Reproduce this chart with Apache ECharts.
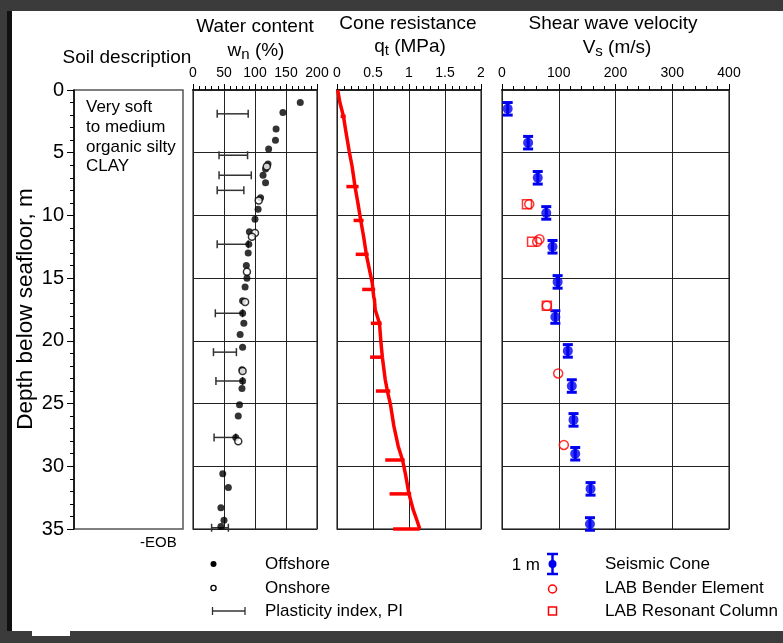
<!DOCTYPE html>
<html>
<head>
<meta charset="utf-8">
<script src="https://cdn.jsdelivr.net/npm/echarts@6/dist/echarts.min.js"></script>
<style>
body{margin:0;background:#3b3b3b;}
#paper{position:absolute;left:7px;top:11px;width:776px;height:620px;background:#fff;border-left:5px solid #111;box-sizing:border-box;}
#notch{position:absolute;left:32px;top:631px;width:38px;height:5px;background:#fff;}
#chart{position:absolute;left:0;top:0;width:783px;height:643px;}
</style>
</head>
<body>
<div id="paper"></div>
<div id="notch"></div>
<div id="chart"></div>
<script>
var F = '"Liberation Sans", Arial, Helvetica, sans-serif';

// water content (depth m, wn %)
var wnOffDepth = [1.0, 1.8, 3.1, 4.0, 4.7, 5.9, 6.3, 6.8, 7.4, 8.6, 9.5, 10.3, 11.3, 12.3, 13.0, 14.0, 15.0, 15.7, 16.8, 17.8, 18.6, 19.5, 20.5, 22.3, 23.2, 23.8, 25.1, 26.0, 27.7, 30.6, 31.7, 33.3, 34.3, 34.8];
var wnOffValue = [173, 145, 134, 133, 122, 121, 117, 113, 117, 109, 105, 100, 91, 90, 89, 86, 87, 84, 80, 80, 82, 76, 80, 79, 80, 79, 75, 73, 69, 48, 57, 45, 50, 45];
var wnOnDepth = [6.1, 8.8, 11.4, 11.7, 14.5, 16.9, 22.4, 28.0];
var wnOnValue = [119, 106, 100, 95, 87, 84, 80, 73];
// plasticity index bars
var piDepth = [1.9, 5.2, 6.8, 8.0, 12.3, 17.8, 20.9, 23.2, 27.7, 34.9];
var piLow = [39, 42, 42, 39, 39, 36, 33, 37, 34, 30];
var piHigh = [89, 88, 94, 82, 89, 80, 70, 80, 69, 57];

// cone resistance qt (MPa)
var qtDepth = [0, 1.0, 2.1, 3.2, 4.9, 6.1, 7.7, 9.0, 10.4, 11.7, 13.2, 14.3, 15.4, 16.5, 16.7, 17.5, 18.6, 20.1, 21.3, 23.1, 24.0, 25.0, 26.8, 28.4, 29.5, 30.6, 32.2, 33.5, 34.3, 35.0];
var qtValue = [0.01, 0.04, 0.09, 0.12, 0.17, 0.21, 0.25, 0.29, 0.33, 0.37, 0.41, 0.45, 0.49, 0.51, 0.52, 0.53, 0.59, 0.61, 0.63, 0.67, 0.70, 0.74, 0.79, 0.85, 0.91, 0.95, 1.00, 1.06, 1.11, 1.15];
var qtMarkDepth = [2.1, 7.7, 10.4, 13.1, 15.9, 18.6, 21.3, 24.0, 29.5, 32.2, 35.0];
var qtMarkLow = [0.05, 0.13, 0.23, 0.26, 0.35, 0.47, 0.46, 0.54, 0.67, 0.73, 0.78];
var qtMarkHigh = [0.12, 0.30, 0.37, 0.44, 0.53, 0.62, 0.64, 0.74, 0.94, 1.03, 1.15];

// shear wave velocity (m/s)
var vsDepth = [1.5, 4.2, 7.0, 9.8, 12.5, 15.3, 18.1, 20.8, 23.6, 26.3, 29.0, 31.8, 34.6];
var vsValue = [10, 46, 63, 78, 89, 98, 94, 116, 123, 126, 129, 156, 155];
var vsHalfBar = 0.5; // bar = 1 m
var benderDepth = [9.1, 11.9, 12.1, 17.2, 22.6, 28.3];
var benderValue = [48, 66, 62, 79, 99, 109];
var resonantDepth = [9.1, 12.1, 17.2];
var resonantValue = [44, 53, 79];

var soilText = ['Very soft', 'to medium', 'organic silty', 'CLAY'];

function zip(xs, ys) {
  return xs.map(function (x, i) { return [x, ys[i]]; });
}

var chart = echarts.init(document.getElementById('chart'));

var grids = [
  { left: 74, top: 90, width: 109, height: 439 },
  { left: 193, top: 90, width: 124, height: 439 },
  { left: 337, top: 90, width: 144, height: 439 },
  { left: 502, top: 90, width: 227, height: 439 }
].map(function (g) {
  g.show = true; g.borderColor = '#555'; g.borderWidth = 1.5; g.backgroundColor = 'transparent';
  return g;
});

function topAxis(idx, max, interval) {
  return {
    gridIndex: idx, type: 'value', position: 'top', min: 0, max: max, interval: interval,
    axisLine: { show: true, lineStyle: { color: '#222', width: 2 } },
    axisTick: { show: true, length: 6, lineStyle: { color: '#000' } },
    minorTick: { show: true, splitNumber: 5, length: 4, lineStyle: { color: '#000' } },
    axisLabel: { fontSize: 14, margin: 10, color: '#000', fontFamily: F },
    splitLine: { show: true, lineStyle: { color: '#222', width: 1 } }
  };
}

function depthAxis(idx) {
  return {
    gridIndex: idx, type: 'value', min: 0, max: 35, interval: 5, inverse: true,
    axisLine: { show: false }, axisTick: { show: false }, axisLabel: { show: false },
    splitLine: { show: true, lineStyle: { color: '#222', width: 1 } }
  };
}

var yAxes = [{
  gridIndex: 0, type: 'value', min: 0, max: 35, interval: 5, inverse: true,
  axisLine: { show: true, lineStyle: { color: '#000', width: 1.5 } },
  axisTick: { show: true, length: 7, lineStyle: { color: '#000' } },
  minorTick: { show: true, splitNumber: 5, length: 4, lineStyle: { color: '#000' } },
  axisLabel: { fontSize: 20, margin: 10, color: '#000', fontFamily: F },
  splitLine: { show: false }
}, depthAxis(1), depthAxis(2), depthAxis(3)];

var xAxes = [
  { gridIndex: 0, type: 'value', min: 0, max: 1, show: false },
  topAxis(1, 200, 50),
  topAxis(2, 2, 0.5),
  topAxis(3, 400, 100)
];

function hBarItem(color, width, cap) {
  return function (params, api) {
    var p1 = api.coord([api.value(0), api.value(2)]);
    var p2 = api.coord([api.value(1), api.value(2)]);
    var kids = [{ type: 'line', shape: { x1: p1[0], y1: p1[1], x2: p2[0], y2: p2[1] }, style: { stroke: color, lineWidth: width } }];
    if (cap) {
      kids.push({ type: 'line', shape: { x1: p1[0], y1: p1[1] - cap, x2: p1[0], y2: p1[1] + cap }, style: { stroke: color, lineWidth: width } });
      kids.push({ type: 'line', shape: { x1: p2[0], y1: p2[1] - cap, x2: p2[0], y2: p2[1] + cap }, style: { stroke: color, lineWidth: width } });
    }
    return { type: 'group', children: kids };
  };
}

var series = [
  {
    type: 'custom', xAxisIndex: 1, yAxisIndex: 1, clip: false,
    data: piDepth.map(function (d, i) { return [piLow[i], piHigh[i], d]; }),
    encode: { x: [0, 1], y: 2 },
    renderItem: hBarItem('#333', 1.5, 4)
  },
  {
    type: 'scatter', xAxisIndex: 1, yAxisIndex: 1, symbolSize: 7,
    itemStyle: { color: '#000' },
    data: zip(wnOffValue, wnOffDepth)
  },
  {
    type: 'scatter', xAxisIndex: 1, yAxisIndex: 1, symbolSize: 7,
    itemStyle: { color: '#fff', borderColor: '#000', borderWidth: 1.5 },
    data: zip(wnOnValue, wnOnDepth)
  },
  {
    type: 'line', xAxisIndex: 2, yAxisIndex: 2, showSymbol: false,
    lineStyle: { color: '#ff0000', width: 3.5 },
    data: zip(qtValue, qtDepth)
  },
  {
    type: 'custom', xAxisIndex: 2, yAxisIndex: 2, clip: false,
    data: qtMarkDepth.map(function (d, i) { return [qtMarkLow[i], qtMarkHigh[i], d]; }),
    encode: { x: [0, 1], y: 2 },
    renderItem: hBarItem('#ff0000', 3.5, 0)
  },
  {
    type: 'custom', xAxisIndex: 3, yAxisIndex: 3, clip: false,
    data: zip(vsValue, vsDepth),
    encode: { x: 0, y: 1 },
    renderItem: function (params, api) {
      var top = api.coord([api.value(0), api.value(1) - vsHalfBar]);
      var bot = api.coord([api.value(0), api.value(1) + vsHalfBar]);
      var st = { stroke: '#0000f0', lineWidth: 3 };
      return { type: 'group', children: [
        { type: 'line', shape: { x1: top[0], y1: top[1], x2: bot[0], y2: bot[1] }, style: st },
        { type: 'line', shape: { x1: top[0] - 5, y1: top[1], x2: top[0] + 5, y2: top[1] }, style: st },
        { type: 'line', shape: { x1: bot[0] - 5, y1: bot[1], x2: bot[0] + 5, y2: bot[1] }, style: st }
      ] };
    }
  },
  {
    type: 'scatter', xAxisIndex: 3, yAxisIndex: 3, symbolSize: 10,
    itemStyle: { color: '#0000f0' },
    data: zip(vsValue, vsDepth)
  },
  {
    type: 'scatter', xAxisIndex: 3, yAxisIndex: 3, symbol: 'circle', symbolSize: 9,
    itemStyle: { color: 'rgba(0,0,0,0)', borderColor: '#ff0000', borderWidth: 1.5 },
    data: zip(benderValue, benderDepth)
  },
  {
    type: 'scatter', xAxisIndex: 3, yAxisIndex: 3, symbol: 'rect', symbolSize: 9,
    itemStyle: { color: 'rgba(0,0,0,0)', borderColor: '#ff0000', borderWidth: 1.5 },
    data: zip(resonantValue, resonantDepth)
  }
];

function txt(x, y, text, size, extra) {
  var s = { text: text, fontSize: size, fontFamily: F, fill: '#000', textAlign: 'center', textVerticalAlign: 'middle' };
  for (var k in extra) s[k] = extra[k];
  return { type: 'text', x: x, y: y, style: s };
}

function subText(x, y, main, sub, rest) {
  return {
    type: 'text', x: x, y: y,
    style: {
      text: '{m|' + main + '}{s|' + sub + '}{m|' + rest + '}',
      textAlign: 'center', textVerticalAlign: 'middle',
      rich: {
        m: { fontSize: 19, fontFamily: F, fill: '#000', lineHeight: 22 },
        s: { fontSize: 15, fontFamily: F, fill: '#000', lineHeight: 14, verticalAlign: 'bottom' }
      }
    }
  };
}

var depthTitle = txt(26, 309, 'Depth below seafloor, m', 22.5, {});
depthTitle.rotation = Math.PI / 2;

var graphics = [
  txt(127, 58, 'Soil description', 19),
  txt(255, 27, 'Water content', 19),
  subText(256, 51, 'w', 'n', ' (%)'),
  txt(408, 24, 'Cone resistance', 19),
  subText(410, 47, 'q', 't', ' (MPa)'),
  txt(613, 24, 'Shear wave velocity', 19),
  subText(617, 48, 'V', 's', ' (m/s)'),
  depthTitle,
  txt(86, 98, soilText.join('\n'), 17, { textAlign: 'left', textVerticalAlign: 'top', lineHeight: 19.6 }),
  txt(140, 543, '-EOB', 15, { textAlign: 'left' }),
  // legend, left group
  { type: 'circle', shape: { cx: 213.5, cy: 564, r: 3 }, style: { fill: '#000' } },
  { type: 'circle', shape: { cx: 213.5, cy: 588, r: 2.6 }, style: { fill: '#fff', stroke: '#000', lineWidth: 1.3 } },
  { type: 'line', shape: { x1: 212.5, y1: 611, x2: 245, y2: 611 }, style: { stroke: '#333', lineWidth: 1.3 } },
  { type: 'line', shape: { x1: 212.5, y1: 607, x2: 212.5, y2: 615 }, style: { stroke: '#333', lineWidth: 1.3 } },
  { type: 'line', shape: { x1: 245, y1: 607, x2: 245, y2: 615 }, style: { stroke: '#333', lineWidth: 1.3 } },
  txt(265, 564, 'Offshore', 17, { textAlign: 'left' }),
  txt(265, 588, 'Onshore', 17, { textAlign: 'left' }),
  txt(265, 611, 'Plasticity index, PI', 17, { textAlign: 'left' }),
  // legend, right group
  txt(540, 565, '1 m', 17, { textAlign: 'right' }),
  { type: 'line', shape: { x1: 552.5, y1: 554, x2: 552.5, y2: 574 }, style: { stroke: '#0000f0', lineWidth: 2.5 } },
  { type: 'line', shape: { x1: 547, y1: 554, x2: 558, y2: 554 }, style: { stroke: '#0000f0', lineWidth: 2.5 } },
  { type: 'line', shape: { x1: 547, y1: 574, x2: 558, y2: 574 }, style: { stroke: '#0000f0', lineWidth: 2.5 } },
  { type: 'circle', shape: { cx: 552.5, cy: 564, r: 4 }, style: { fill: '#0000f0' } },
  { type: 'circle', shape: { cx: 552.5, cy: 589, r: 4 }, style: { fill: 'none', stroke: '#ff0000', lineWidth: 1.5 } },
  { type: 'rect', shape: { x: 548.5, y: 607, width: 8, height: 8 }, style: { fill: 'none', stroke: '#ff0000', lineWidth: 1.5 } },
  txt(605, 564, 'Seismic Cone', 17, { textAlign: 'left' }),
  txt(605, 588, 'LAB Bender Element', 17, { textAlign: 'left' }),
  txt(605, 611, 'LAB Resonant Column', 17, { textAlign: 'left' })
];

chart.setOption({
  backgroundColor: 'transparent',
  animation: false,
  grid: grids,
  xAxis: xAxes,
  yAxis: yAxes,
  series: series,
  graphic: graphics
});
</script>
</body>
</html>
